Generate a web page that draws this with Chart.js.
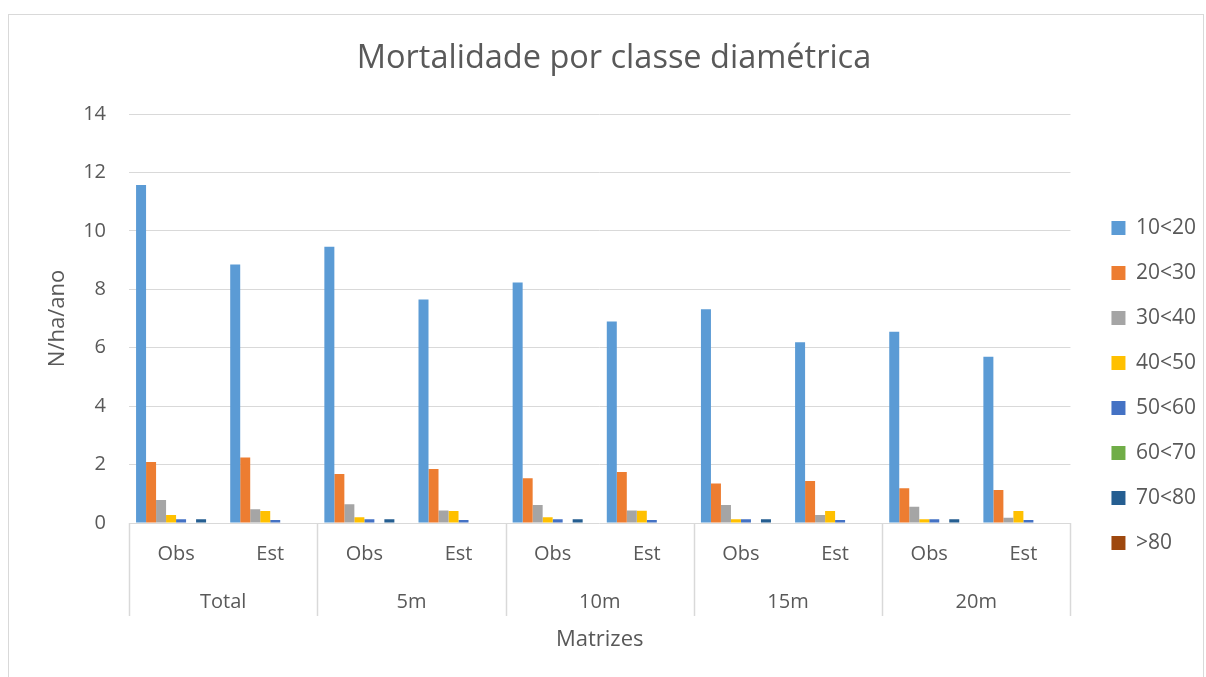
<!DOCTYPE html>
<html>
<head>
<meta charset="utf-8">
<title>Mortalidade por classe diamétrica</title>
<script src="https://cdn.jsdelivr.net/npm/chart.js@4"></script>
<style>
  html, body { margin: 0; padding: 0; background: #fff; }
  #wrap { width: 1206px; height: 677px; }
</style>
</head>
<body>
<div id="wrap"><canvas id="chart" width="1206" height="677"></canvas></div>
<script>
// --- data ---
const categories = ['Obs', 'Est', 'Obs', 'Est', 'Obs', 'Est', 'Obs', 'Est', 'Obs', 'Est'];
const groups = ['Total', '5m', '10m', '15m', '20m'];
const seriesNames = ['10<20', '20<30', '30<40', '40<50', '50<60', '60<70', '70<80', '>80'];
const seriesColors = ['#5B9BD5', '#ED7D31', '#A5A5A5', '#FFC000', '#4472C4', '#70AD47', '#255E91', '#9E480E'];

const d10_20 = [11.57, 8.85, 9.46, 7.65, 8.23, 6.90, 7.32, 6.19, 6.55, 5.69];
const d20_30 = [2.09, 2.24, 1.68, 1.85, 1.53, 1.75, 1.35, 1.44, 1.19, 1.13];
const d30_40 = [0.79, 0.47, 0.64, 0.43, 0.62, 0.43, 0.62, 0.27, 0.56, 0.18];
const d40_50 = [0.27, 0.41, 0.20, 0.41, 0.20, 0.42, 0.13, 0.41, 0.13, 0.41];
const d50_60 = [0.13, 0.10, 0.13, 0.10, 0.13, 0.10, 0.13, 0.10, 0.13, 0.10];
const d60_70 = [0, 0, 0, 0, 0, 0, 0, 0, 0, 0];
const d70_80 = [0.13, 0, 0.13, 0, 0.13, 0, 0.13, 0, 0.13, 0];
const d80 = [0, 0, 0, 0, 0, 0, 0, 0, 0, 0];
const seriesValues = [d10_20, d20_30, d30_40, d40_50, d50_60, d60_70, d70_80, d80];

const yTicks = [0, 2, 4, 6, 8, 10, 12, 14];

const TEXT = '#595959';
const LINE = '#d9d9d9';
const FONT = "'Open Sans', sans-serif";

// outer frame + second level of the category axis (group names and dividers)
const framePlugin = {
    id: 'frame',
    beforeDraw(chart) {
        const ctx = chart.ctx;
        ctx.save();
        ctx.fillStyle = '#fff';
        ctx.fillRect(0, 0, chart.width, chart.height);
        ctx.strokeStyle = LINE;
        ctx.lineWidth = 1;
        ctx.strokeRect(8.5, 14.5, chart.width - 11, chart.height + 20);
        ctx.restore();
    },
    afterDraw(chart) {
        const ctx = chart.ctx;
        const x = chart.scales.x;
        const step = (x.right - x.left) / categories.length;
        const top = chart.chartArea.bottom;
        ctx.save();
        ctx.strokeStyle = LINE;
        ctx.lineWidth = 1.5;
        for (let g = 0; g <= groups.length; g++) {
            const px = Math.round(x.getPixelForValue(g * 2) - step / 2) + 0.5;
            ctx.beginPath();
            ctx.moveTo(px, top);
            ctx.lineTo(px, top + 93);
            ctx.stroke();
        }
        ctx.fillStyle = TEXT;
        ctx.font = '20px ' + FONT;
        ctx.textAlign = 'center';
        ctx.textBaseline = 'middle';
        groups.forEach((name, g) => {
            const cx = (x.getPixelForValue(g * 2) + x.getPixelForValue(g * 2 + 1)) / 2;
            ctx.fillText(name, cx, top + 79);
        });
        ctx.restore();
    }
};

new Chart(document.getElementById('chart').getContext('2d'), {
    type: 'bar',
    data: {
        labels: categories,
        datasets: seriesNames.map((name, i) => ({
            label: name,
            data: seriesValues[i],
            backgroundColor: seriesColors[i],
            borderWidth: 0,
            categoryPercentage: 0.85,
            barPercentage: 1.0
        }))
    },
    options: {
        responsive: false,
        animation: false,
        devicePixelRatio: 1,
        layout: { padding: { left: 22, right: 0, top: 0, bottom: 0 } },
        scales: {
            x: {
                grid: { display: false, drawTicks: false },
                border: { display: false },
                ticks: { color: TEXT, font: { family: FONT, size: 20 }, padding: 19, maxRotation: 0 },
                title: { display: true, text: 'Matrizes', color: TEXT, font: { family: FONT, size: 22 }, padding: { top: 0, bottom: 24 } },
                afterFit(s) { s.height = 154; }
            },
            y: {
                min: 0,
                max: 14,
                afterBuildTicks(s) { s.ticks = yTicks.map(v => ({ value: v })); },
                grid: { color: LINE, lineWidth: 1, drawTicks: false },
                border: { display: false },
                ticks: { color: TEXT, font: { family: FONT, size: 20 }, padding: 23 },
                title: { display: true, text: 'N/ha/ano', color: TEXT, font: { family: FONT, size: 22 }, padding: { top: 23, bottom: 0 } },
                afterFit(s) { s.width = 107; }
            },
            yR: {
                position: 'right',
                display: true,
                grid: { display: false, drawOnChartArea: false, drawTicks: false },
                border: { display: false },
                ticks: { display: false },
                afterFit(s) { s.width = 17; }
            }
        },
        plugins: {
            title: {
                display: true,
                text: 'Mortalidade por classe diamétrica',
                color: TEXT,
                font: { family: FONT, size: 32.5, weight: 'normal' },
                padding: { top: 39, bottom: 36 }
            },
            legend: {
                display: true,
                position: 'right',
                align: 'start',
                title: { display: true, text: '', font: { size: 12, lineHeight: 1 }, padding: { top: 0, bottom: 181.5 } },
                labels: {
                    color: TEXT,
                    font: { family: FONT, size: 21 },
                    boxWidth: 14,
                    boxHeight: 14,
                    padding: 24
                }
            },
            tooltip: { enabled: false }
        }
    },
    plugins: [framePlugin]
});
</script>
</body>
</html>
